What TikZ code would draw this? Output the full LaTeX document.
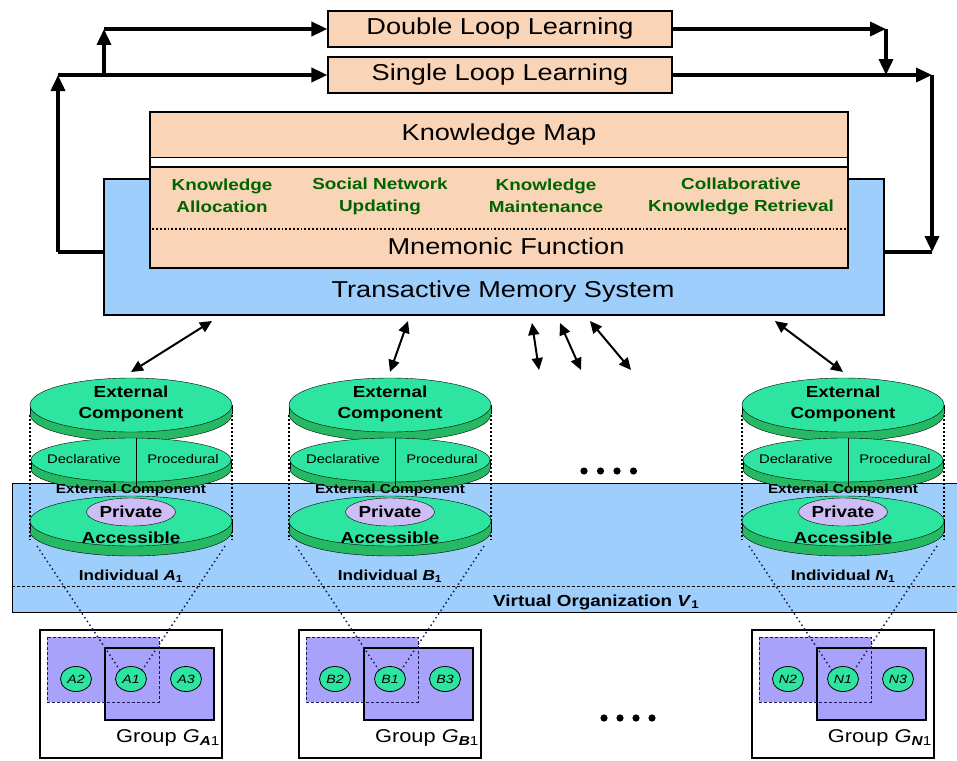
\documentclass[tikz,border=0pt]{standalone}
\usepackage{fontspec}
\setmainfont{Liberation Sans}[FakeStretch=1.18]
\usetikzlibrary{arrows.meta,shapes.geometric}

\definecolor{peach}{RGB}{250,212,182}
\definecolor{tmsblue}{RGB}{158,206,252}
\definecolor{topgreen}{RGB}{45,228,160}
\definecolor{rimgreen}{RGB}{38,185,100}
\definecolor{lavender}{RGB}{205,190,245}
\definecolor{grpblue}{RGB}{168,162,250}
\definecolor{txtgreen}{RGB}{0,100,0}
\definecolor{navy}{RGB}{25,25,90}

% one disk of the memory stack: x, centre y, x radius, y radius, thickness
\newcommand{\disk}[5]{%
  \draw[fill=rimgreen] (#1,#2+#5) ellipse [x radius=#3, y radius=#4];
  \fill[rimgreen] (#1-#3,#2) rectangle (#1+#3,#2+#5);
  \draw (#1-#3,#2) -- (#1-#3,#2+#5) (#1+#3,#2) -- (#1+#3,#2+#5);
  \draw[fill=topgreen] (#1,#2) ellipse [x radius=#3, y radius=#4];
}

% individual memory stack and its group: letter, centre x
\newcommand{\indiv}[2]{%
  \draw[sideline] (#2-101,415) -- (#2-101,540) (#2+101,415) -- (#2+101,540);
  \disk{#2}{405}{101}{27}{9}
  \node[bigtxt] (#1-ext) at (#2,404) {External\\Component};
  \coordinate (#1-top) at (#2,372);
  \disk{#2}{460}{100}{22}{9}
  \draw (#2+5,438) -- (#2+5,486);
  \node[decltxt] (#1-decl) at (#2-47,459) {Declarative};
  \node[decltxt] (#1-proc) at (#2+52,459) {Procedural};
  \node[midtxt] (#1-mid) at (#2,490) {External Component};
  \disk{#2}{521}{101}{25}{10}
  \node[privnode] (#1-priv) at (#2,512) {Private};
  \node[bigtxt] (#1-acc) at (#2,538) {Accessible};
  \node[bigtxt,font=\fontsize{14.5}{18}\selectfont\bfseries] (#1-ind) at (#2,576) {Individual \textit{#1}\textsubscript{1}};
  % group
  \node[grpbox] (#1-grp) at (#2,694) {};
  \fill[grpblue] (#2-84,637) rectangle (#2+28,702);
  \draw[grpfill] (#2-26,648) rectangle (#2+83,720);
  \draw[navy,densely dashed,thick] (#2-84,637) rectangle (#2+28,702);
  \node[memnode] (#1-g2) at (#2-55,679) {\textit{#1}2};
  \node[memnode] (#1-g1) at (#2,679) {\textit{#1}1};
  \node[memnode] (#1-g3) at (#2+55,679) {\textit{#1}3};
  \node[grptxt,anchor=east] (#1-glbl) at (#2+89,738) {Group \textit{G}\textsubscript{\textbf{\textit{#1}}1}};
  \coordinate (#1-bl) at (#2-94,546);
  \coordinate (#1-br) at (#2+94,546);
  \draw[funnel] (#1-bl) -- (#1-g1.north west);
  \draw[funnel] (#1-br) -- (#1-g1.north east);
}

\begin{document}
\begin{tikzpicture}[x=1pt,y=-1pt,
  loopbox/.style={draw,fill=peach,line width=1.2pt,minimum width=344,minimum height=36,inner sep=0pt,font=\fontsize{23}{27}\selectfont},
  kbox/.style={draw,fill=peach,line width=1.2pt,minimum width=698,inner sep=0pt},
  tmsbox/.style={draw,fill=tmsblue,line width=1.2pt,minimum width=780,minimum height=136},
  kmtxt/.style={inner sep=0pt,font=\fontsize{23}{27}\selectfont},
  greentxt/.style={align=center,inner sep=0pt,text=txtgreen,font=\fontsize{16}{22}\selectfont\bfseries},
  bigtxt/.style={align=center,inner sep=0pt,font=\fontsize{16}{21}\selectfont\bfseries},
  decltxt/.style={inner sep=0pt,font=\fontsize{12.5}{15}\selectfont},
  midtxt/.style={inner sep=0pt,font=\fontsize{13}{15}\selectfont\bfseries},
  privnode/.style={ellipse,draw,fill=lavender,minimum width=86,minimum height=28,inner sep=0pt,font=\fontsize{16}{19}\selectfont\bfseries},
  memnode/.style={ellipse,draw,thick,fill=topgreen,minimum width=31,minimum height=25,inner sep=0pt,font=\fontsize{12}{14}\selectfont\itshape},
  grpbox/.style={draw,fill=white,line width=1.2pt,minimum width=182,minimum height=128},
  grpfill/.style={draw,fill=grpblue,line width=1.2pt},
  grptxt/.style={inner sep=0pt,font=\fontsize{18.5}{22}\selectfont},
  loopline/.style={line width=3.6pt},
  looptip/.style={-{Triangle[length=16pt,width=14pt]}},
  tmslink/.style={line width=2pt,{Triangle[length=12pt,width=11pt]}-{Triangle[length=12pt,width=11pt]}},
  funnel/.style={navy,line width=1.5pt,dash pattern=on 1.5pt off 3pt},
  sideline/.style={line width=1.4pt,dash pattern=on 1.5pt off 2.5pt}]
\useasboundingbox (0,0) rectangle (957,760);

% learning loops
\node[loopbox] (dll) at (500,29) {Double Loop Learning};
\node[loopbox] (sll) at (500,75) {Single Loop Learning};

% transactive memory system
\node[tmsbox] (tms) at (494,247) {};
\node[draw,fill=white,line width=1.2pt,minimum width=698,minimum height=156] (kframe) at (499,190) {};
\node[kbox,minimum height=45,font=\fontsize{23}{27}\selectfont] (kmap) at (499,135) {Knowledge Map};
\node[kbox,minimum height=101] (mnem) at (499,217.5) {};
\node[greentxt] (alloc) at (222,196) {Knowledge\\Allocation};
\node[greentxt] (social) at (380,196) {Social Network\\Updating};
\node[greentxt] (maint) at (546,196) {Knowledge\\Maintenance};
\node[greentxt] (retr) at (741,196) {Collaborative\\Knowledge Retrieval};
\draw[dotted,line width=1.8pt] ([xshift=3pt,yshift=-11.5pt]mnem.west) -- ([xshift=-3pt,yshift=-11.5pt]mnem.east);
\node[kmtxt] (mfun) at (506,246) {Mnemonic Function};
\node[kmtxt] (tmslbl) at (503,292) {Transactive Memory System};

% loop arrows
\coordinate (lo) at (58,252);
\coordinate (li) at (104,75);
\coordinate (ri) at (886,29);
\coordinate (ro) at (932,252);
\draw[loopline] (tms.west |- lo) -- (lo);
\draw[loopline,looptip] (lo) -- (lo |- sll.west);
\draw[loopline,looptip] (lo |- sll.west) -- (sll.west);
\draw[loopline,looptip] (li) -- (li |- dll.west);
\draw[loopline,looptip] (li |- dll.west) -- (dll.west);
\draw[loopline,looptip] (dll.east) -- (ri);
\draw[loopline,looptip] (ri) -- (ri |- sll.east);
\draw[loopline,looptip] (sll.east) -- (ro |- sll.east);
\draw[loopline,looptip] (ro |- sll.east) -- (ro);
\draw[loopline] (tms.east |- ro) -- (ro);

% virtual organization
\node[draw,fill=tmsblue,line width=1.2pt,minimum width=950,minimum height=129,anchor=north west] (vo) at (12,483) {};
\draw[densely dashed,thick] ([yshift=-38.5pt]vo.west) -- ([yshift=-38.5pt]vo.east);
\node[bigtxt,anchor=west] (volbl) at (493,602) {Virtual Organization \textit{V}\textsubscript{1}};

\indiv{A}{131}
\indiv{B}{390}
\indiv{N}{843}

% exchanges with the transactive memory system
\coordinate (ta) at (212,321);
\coordinate (tb) at (408,321);
\coordinate (tc) at (532,323);
\coordinate (tcx) at (539,370);
\coordinate (td) at (560,323);
\coordinate (tdx) at (581,370);
\coordinate (te) at (590,321);
\coordinate (tex) at (631,370);
\coordinate (tn) at (775,321);
\draw[tmslink] (ta) -- (A-top);
\draw[tmslink] (tb) -- (B-top);
\draw[tmslink] (tc) -- (tcx);
\draw[tmslink] (td) -- (tdx);
\draw[tmslink] (te) -- (tex);
\draw[tmslink] (tn) -- (N-top);

% more individuals and groups
\foreach \i in {0,...,3} \fill (584+16.5*\i,471) circle (3.6);
\foreach \i in {0,...,3} \fill (604+16*\i,718) circle (3.6);
\end{tikzpicture}
\end{document}
